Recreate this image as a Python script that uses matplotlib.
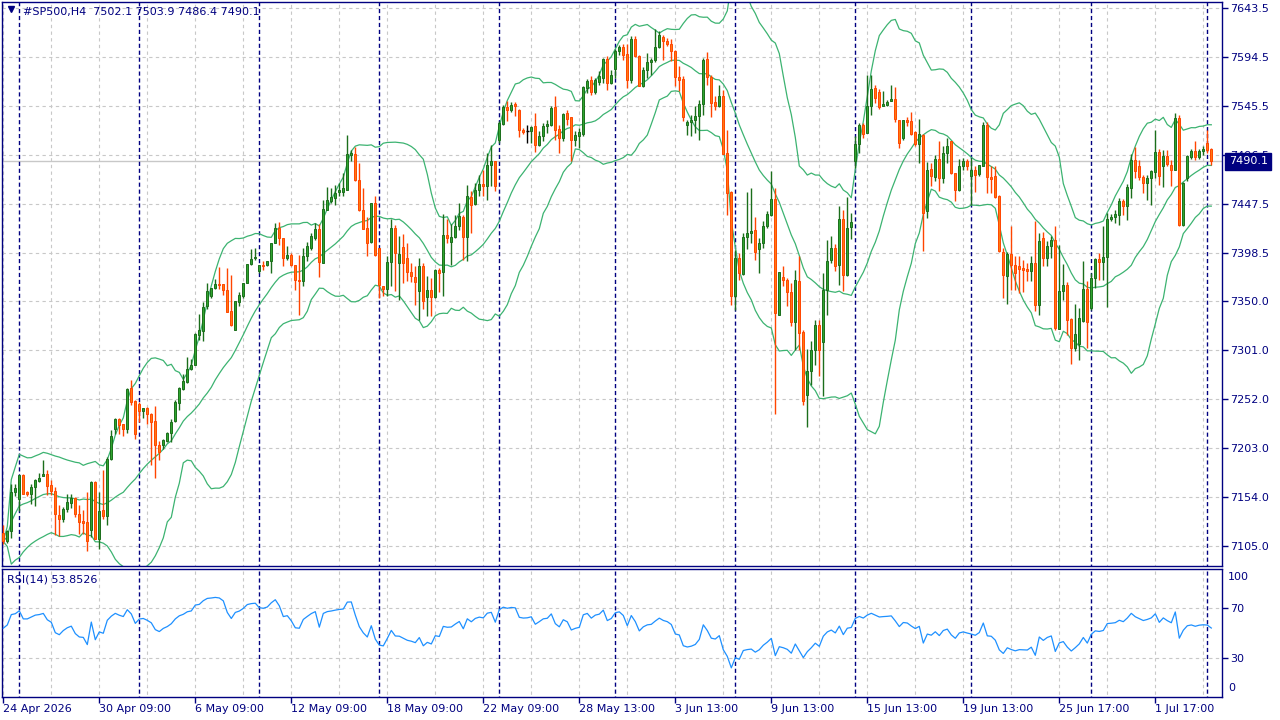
import matplotlib
matplotlib.use("Agg")
import matplotlib.pyplot as plt
import matplotlib.transforms as mtransforms
import numpy as np
import pandas as pd

# H4 candles (oldest first)
opens = [
    7118, 7110, 7120, 7159, 7152, 7176, 7159, 7157, 7164, 7170,
    7175, 7177, 7166, 7160, 7136, 7132, 7142, 7148, 7153, 7137,
    7130, 7129, 7121, 7169, 7112, 7141, 7135, 7192, 7222, 7232,
    7227, 7222, 7263, 7250, 7247, 7240, 7243, 7237, 7230, 7206,
    7206, 7210, 7218, 7230, 7248, 7262, 7269, 7282, 7286, 7316,
    7320, 7345, 7355, 7363, 7367, 7367, 7361, 7340, 7321, 7349,
    7355, 7368, 7387, 7393, 7380, 7386, 7386, 7390, 7408, 7423,
    7413, 7393, 7396, 7386, 7371, 7370, 7395, 7403, 7413, 7422,
    7388, 7441, 7450, 7453, 7459, 7459, 7461, 7496, 7497, 7471,
    7441, 7423, 7409, 7448, 7403, 7365, 7362, 7389, 7423, 7388,
    7404, 7393, 7379, 7374, 7360, 7385, 7354, 7361, 7354, 7381,
    7379, 7416, 7409, 7414, 7425, 7434, 7414, 7454, 7447, 7461,
    7467, 7465, 7486, 7490, 7511, 7527, 7544, 7541, 7547, 7541,
    7521, 7520, 7520, 7525, 7506, 7515, 7525, 7526, 7544, 7522,
    7513, 7538, 7534, 7511, 7515, 7517, 7563, 7571, 7559, 7569,
    7573, 7592, 7568, 7582, 7600, 7604, 7597, 7571, 7612, 7595,
    7565, 7581, 7589, 7591, 7604, 7614, 7610, 7607, 7600, 7574,
    7572, 7526, 7529, 7531, 7535, 7547, 7592, 7574, 7549, 7545,
    7555, 7498, 7459, 7355, 7393, 7377, 7414, 7418, 7421, 7402,
    7408, 7425, 7436, 7452, 7336, 7374, 7371, 7359, 7329, 7370,
    7319, 7256, 7280, 7301, 7326, 7309, 7361, 7391, 7403, 7386,
    7432, 7376, 7424, 7490, 7507, 7526, 7518, 7545, 7563, 7559,
    7545, 7546, 7550, 7552, 7531, 7513, 7531, 7530, 7519, 7507,
    7516, 7440, 7482, 7474, 7492, 7473, 7498, 7510, 7478, 7461,
    7485, 7490, 7475, 7481, 7477, 7485, 7526, 7474, 7475, 7455,
    7399, 7375, 7397, 7386, 7385, 7383, 7382, 7380, 7388, 7346,
    7413, 7393, 7405, 7411, 7322, 7360, 7366, 7332, 7303, 7307,
    7330, 7362, 7343, 7373, 7392, 7389, 7394, 7432, 7434, 7436,
    7450, 7445, 7463, 7491, 7485, 7474, 7468, 7473, 7479, 7499,
    7485, 7495, 7486, 7481, 7533, 7426, 7473, 7494, 7500, 7494,
    7500, 7508, 7502.1,
]
highs = [
    7126, 7121, 7167, 7167, 7176, 7177, 7160, 7167, 7172, 7178,
    7191, 7181, 7171, 7164, 7146, 7144, 7157, 7157, 7154, 7146,
    7141, 7159, 7170, 7170, 7159, 7181, 7194, 7221, 7233, 7233,
    7227, 7263, 7271, 7251, 7249, 7243, 7244, 7238, 7245, 7210,
    7212, 7219, 7232, 7251, 7264, 7277, 7294, 7292, 7318, 7337,
    7349, 7368, 7363, 7372, 7384, 7367, 7383, 7376, 7350, 7359,
    7368, 7387, 7402, 7403, 7386, 7390, 7390, 7408, 7428, 7429,
    7413, 7405, 7398, 7386, 7396, 7403, 7409, 7418, 7428, 7427,
    7451, 7464, 7463, 7466, 7468, 7478, 7516, 7501, 7504, 7488,
    7463, 7434, 7448, 7455, 7403, 7365, 7395, 7432, 7426, 7415,
    7417, 7408, 7388, 7385, 7393, 7388, 7375, 7373, 7382, 7383,
    7437, 7432, 7427, 7436, 7448, 7436, 7466, 7460, 7468, 7476,
    7481, 7498, 7506, 7490, 7530, 7546, 7550, 7549, 7549, 7542,
    7523, 7526, 7525, 7538, 7520, 7528, 7531, 7545, 7555, 7526,
    7538, 7541, 7534, 7520, 7523, 7565, 7572, 7575, 7573, 7580,
    7593, 7595, 7581, 7602, 7606, 7607, 7607, 7615, 7615, 7596,
    7584, 7598, 7593, 7622, 7620, 7616, 7613, 7612, 7601, 7585,
    7575, 7531, 7536, 7545, 7551, 7593, 7599, 7576, 7555, 7566,
    7561, 7521, 7460, 7401, 7398, 7418, 7459, 7463, 7434, 7413,
    7430, 7440, 7480, 7463, 7379, 7385, 7373, 7368, 7381, 7395,
    7321, 7302, 7310, 7331, 7331, 7378, 7411, 7415, 7407, 7445,
    7441, 7454, 7438, 7515, 7528, 7528, 7576, 7576, 7566, 7562,
    7560, 7551, 7566, 7564, 7531, 7531, 7534, 7539, 7520, 7532,
    7517, 7489, 7488, 7496, 7510, 7505, 7513, 7510, 7478, 7492,
    7493, 7492, 7493, 7485, 7486, 7529, 7529, 7485, 7485, 7456,
    7403, 7399, 7425, 7395, 7395, 7391, 7388, 7395, 7430, 7418,
    7419, 7410, 7415, 7425, 7406, 7387, 7369, 7333, 7347, 7343,
    7390, 7370, 7378, 7393, 7398, 7425, 7438, 7437, 7441, 7453,
    7452, 7467, 7497, 7504, 7491, 7476, 7476, 7481, 7521, 7502,
    7501, 7501, 7491, 7538, 7536, 7469, 7496, 7502, 7510, 7502,
    7505, 7521, 7503.9,
]
lows = [
    7107, 7108, 7113, 7155, 7140, 7157, 7155, 7147, 7145, 7169,
    7175, 7156, 7156, 7116, 7115, 7129, 7139, 7143, 7134, 7117,
    7117, 7100, 7114, 7112, 7102, 7132, 7126, 7191, 7217, 7217,
    7215, 7218, 7246, 7212, 7229, 7233, 7227, 7186, 7173, 7191,
    7202, 7209, 7209, 7229, 7241, 7261, 7268, 7281, 7286, 7311,
    7310, 7342, 7353, 7362, 7362, 7356, 7339, 7325, 7321, 7345,
    7353, 7368, 7386, 7391, 7378, 7381, 7385, 7378, 7408, 7406,
    7385, 7391, 7385, 7361, 7336, 7365, 7390, 7401, 7411, 7374,
    7388, 7441, 7448, 7446, 7455, 7455, 7461, 7490, 7470, 7440,
    7422, 7395, 7408, 7395, 7353, 7355, 7355, 7365, 7360, 7351,
    7368, 7370, 7369, 7346, 7331, 7342, 7335, 7335, 7353, 7359,
    7355, 7408, 7386, 7413, 7421, 7391, 7390, 7418, 7446, 7455,
    7455, 7451, 7465, 7460, 7508, 7526, 7530, 7539, 7535, 7514,
    7517, 7508, 7508, 7499, 7505, 7510, 7518, 7525, 7511, 7498,
    7510, 7526, 7490, 7505, 7503, 7515, 7558, 7556, 7557, 7566,
    7568, 7561, 7567, 7573, 7596, 7591, 7563, 7568, 7594, 7565,
    7564, 7573, 7576, 7589, 7603, 7591, 7605, 7590, 7565, 7560,
    7530, 7516, 7515, 7518, 7511, 7536, 7566, 7534, 7541, 7544,
    7497, 7436, 7346, 7341, 7371, 7376, 7402, 7408, 7391, 7378,
    7403, 7423, 7435, 7237, 7336, 7365, 7345, 7325, 7301, 7301,
    7246, 7224, 7266, 7286, 7275, 7255, 7336, 7388, 7380, 7366,
    7360, 7375, 7412, 7483, 7498, 7513, 7518, 7536, 7548, 7542,
    7545, 7545, 7550, 7529, 7503, 7511, 7525, 7516, 7505, 7488,
    7400, 7433, 7465, 7470, 7460, 7468, 7488, 7477, 7450, 7460,
    7481, 7481, 7446, 7459, 7475, 7485, 7458, 7458, 7453, 7399,
    7353, 7347, 7361, 7361, 7358, 7359, 7370, 7370, 7340, 7336,
    7385, 7385, 7393, 7321, 7322, 7351, 7316, 7287, 7300, 7291,
    7329, 7303, 7341, 7363, 7371, 7371, 7344, 7430, 7428, 7426,
    7436, 7431, 7453, 7473, 7471, 7458, 7451, 7446, 7473, 7466,
    7464, 7485, 7465, 7481, 7425, 7425, 7470, 7492, 7491, 7492,
    7496, 7498, 7486.4,
]
closes = [
    7110, 7120, 7159, 7163, 7176, 7157, 7157, 7164, 7171, 7173,
    7177, 7165, 7160, 7137, 7132, 7142, 7149, 7153, 7137, 7129,
    7128, 7110, 7169, 7112, 7140, 7135, 7192, 7215, 7232, 7226,
    7222, 7262, 7249, 7217, 7240, 7243, 7237, 7229, 7206, 7199,
    7211, 7218, 7229, 7249, 7263, 7270, 7282, 7286, 7317, 7321,
    7344, 7360, 7363, 7367, 7366, 7361, 7339, 7326, 7350, 7356,
    7368, 7387, 7392, 7394, 7386, 7385, 7390, 7408, 7423, 7413,
    7393, 7396, 7386, 7371, 7370, 7395, 7405, 7415, 7422, 7389,
    7442, 7451, 7454, 7458, 7461, 7463, 7497, 7498, 7471, 7441,
    7422, 7408, 7448, 7396, 7366, 7362, 7389, 7423, 7398, 7397,
    7388, 7379, 7375, 7369, 7385, 7350, 7361, 7354, 7381, 7378,
    7416, 7413, 7414, 7425, 7435, 7414, 7455, 7446, 7461, 7467,
    7465, 7486, 7490, 7465, 7528, 7544, 7541, 7546, 7545, 7521,
    7519, 7520, 7524, 7506, 7515, 7525, 7527, 7543, 7521, 7513,
    7537, 7532, 7511, 7516, 7519, 7564, 7570, 7559, 7571, 7575,
    7592, 7568, 7576, 7600, 7604, 7596, 7571, 7612, 7595, 7565,
    7581, 7589, 7591, 7604, 7616, 7610, 7607, 7600, 7574, 7571,
    7534, 7529, 7531, 7535, 7547, 7591, 7574, 7548, 7545, 7555,
    7497, 7458, 7355, 7393, 7378, 7414, 7418, 7420, 7399, 7408,
    7425, 7437, 7452, 7338, 7379, 7371, 7359, 7329, 7371, 7318,
    7250, 7280, 7301, 7326, 7301, 7361, 7390, 7403, 7385, 7432,
    7376, 7423, 7429, 7507, 7526, 7517, 7545, 7562, 7553, 7544,
    7547, 7549, 7552, 7532, 7508, 7531, 7529, 7517, 7507, 7517,
    7438, 7481, 7475, 7492, 7473, 7498, 7505, 7478, 7461, 7485,
    7490, 7485, 7481, 7476, 7486, 7526, 7474, 7472, 7454, 7400,
    7376, 7397, 7386, 7378, 7382, 7381, 7380, 7388, 7346, 7410,
    7393, 7405, 7411, 7323, 7360, 7366, 7331, 7303, 7317, 7333,
    7362, 7329, 7373, 7392, 7389, 7394, 7432, 7434, 7437, 7450,
    7445, 7464, 7491, 7480, 7474, 7468, 7473, 7480, 7499, 7475,
    7495, 7487, 7481, 7533, 7426, 7468, 7495, 7500, 7494, 7500,
    7502, 7501, 7490.1,
]

price_ticks = [7105.0, 7154.0, 7203.0, 7252.0, 7301.0, 7350.0,
               7398.5, 7447.5, 7496.5, 7545.5, 7594.5, 7643.5]
week_starts = [4, 34, 64, 94, 124, 153, 183, 213, 242, 272, 301]
time_label_bars = [0, 24, 48, 72, 96, 120, 144, 168, 192, 216, 240, 264, 288]
time_labels = ["24 Apr 2026", "30 Apr 09:00", "6 May 09:00", "12 May 09:00",
               "18 May 09:00", "22 May 09:00", "28 May 13:00", "3 Jun 13:00",
               "9 Jun 13:00", "15 Jun 13:00", "19 Jun 13:00", "25 Jun 17:00",
               "1 Jul 17:00"]
rsi_seed_gain = 7.0
rsi_seed_loss = 6.0

NAVY = "#000080"
GRID = "#c8c8c8"
BULL_FILL = "#2fa52f"
BULL_EDGE = "#1b6e1b"
BEAR_FILL = "#ff7a10"
BEAR_EDGE = "#ff4500"
BANDS = "#3cb371"
RSI_COLOR = "#1e90ff"

plt.rcParams["font.family"] = ["DejaVu Sans"]
W, H = 1280, 720


def px_rect(x0, y0, x1, y1):
    return [x0 / W, 1 - y1 / H, (x1 - x0) / W, (y1 - y0) / H]


def bollinger(values, period=20, mult=2.0):
    s = pd.Series(values)
    mid = s.rolling(period, min_periods=1).mean()
    sd = s.rolling(period, min_periods=1).std(ddof=0)
    return mid, mid + mult * sd, mid - mult * sd


def wilder_rsi(values, period=14):
    delta = np.diff(np.asarray(values, dtype=float), prepend=values[0])
    gains = np.clip(delta, 0, None)
    losses = np.clip(-delta, 0, None)
    ag, al = rsi_seed_gain, rsi_seed_loss
    out = []
    for i in range(len(values)):
        if i > 0:
            ag = (ag * (period - 1) + gains[i]) / period
            al = (al * (period - 1) + losses[i]) / period
        out.append(100 - 100 / (1 + ag / al))
    return np.array(out)


o = np.array(opens, dtype=float)
h = np.array(highs, dtype=float)
l = np.array(lows, dtype=float)
c = np.array(closes, dtype=float)
x = np.arange(len(c))
xlim = ((2 - 3.3) / 4, (1222 - 3.3) / 4)

fig = plt.figure(figsize=(12.8, 7.2), dpi=100)
ax = fig.add_axes(px_rect(2, 2, 1222, 566))
ax_rsi = fig.add_axes(px_rect(2, 569, 1222, 697))

for a in (ax, ax_rsi):
    a.set_xlim(*xlim)
    for sp in a.spines.values():
        sp.set_color(NAVY)
        sp.set_linewidth(1.0)
    a.vlines(np.arange(0, len(c) + 3, 12), -1e5, 1e5, colors=GRID,
             linestyles=(0, (3, 3)), linewidth=0.8, zorder=0)
    a.vlines(week_starts, -1e5, 1e5, colors=NAVY,
             linestyles=(0, (3, 2)), linewidth=1.0, zorder=1)

# main price panel
ax.set_ylim(7085.5, 7649.5)
ax.hlines(price_ticks, *xlim, colors=GRID, linestyles=(0, (3, 3)), linewidth=0.8, zorder=0)
ax.axhline(c[-1], color="#c8c8c8", linewidth=1.0, zorder=0.5)

mid, upper, lower = bollinger(c)
for band in (mid, upper, lower):
    ax.plot(x, band, color=BANDS, linewidth=0.9, zorder=2)

bull = c > o
bear = c < o
doji = c == o
wick_colors = np.where(bull, BULL_EDGE, np.where(bear, BEAR_EDGE, "black"))
ax.vlines(x, l, h, colors=wick_colors, linewidth=1.0, zorder=3)
ax.bar(x[bull], np.maximum(c[bull] - o[bull], 0.8), bottom=o[bull], width=0.55,
       color=BULL_FILL, edgecolor=BULL_EDGE, linewidth=0.7, zorder=4)
ax.bar(x[bear], np.maximum(o[bear] - c[bear], 0.8), bottom=c[bear], width=0.55,
       color=BEAR_FILL, edgecolor=BEAR_EDGE, linewidth=0.7, zorder=4)
ax.hlines(c[doji], x[doji] - 0.4, x[doji] + 0.4, colors="black", linewidth=1.0, zorder=4)

ax.yaxis.tick_right()
ax.set_yticks(price_ticks)
ax.set_yticklabels([f"{v:.1f}" for v in price_ticks])
ax.tick_params(axis="y", colors=NAVY, labelcolor=NAVY, length=4, width=1,
               labelsize=8, pad=2)
ax.tick_params(axis="x", bottom=False, labelbottom=False)

trans = mtransforms.blended_transform_factory(ax.transAxes, ax.transData)
ax.text(1.0055, c[-1], f"{c[-1]:.1f}", transform=trans, ha="left", va="center",
        color="white", fontsize=8, clip_on=False, zorder=10,
        bbox=dict(boxstyle="square,pad=0.3", fc=NAVY, ec=NAVY))

ax.plot([0.0074], [0.9876], marker="v", ms=5, color=NAVY,
        transform=ax.transAxes, clip_on=False)
ax.text(0.0172, 0.982, "#SP500,H4  %.1f %.1f %.1f %.1f" % (o[-1], h[-1], l[-1], c[-1]),
        transform=ax.transAxes, ha="left", va="center", color=NAVY, fontsize=8)

# RSI panel
rsi = wilder_rsi(c)
ax_rsi.set_ylim(-1.2, 101.2)
ax_rsi.hlines([70, 30], *xlim, colors=GRID, linestyles=(0, (3, 3)), linewidth=0.8, zorder=0)
ax_rsi.plot(x, rsi, color=RSI_COLOR, linewidth=0.9, zorder=3)
ax_rsi.text(0.004, 0.92, "RSI(14) 53.8526", transform=ax_rsi.transAxes,
            ha="left", va="center", color=NAVY, fontsize=8)

ax_rsi.yaxis.tick_right()
ax_rsi.set_yticks([70, 30])
ax_rsi.set_yticklabels(["70", "30"])
ax_rsi.tick_params(axis="y", colors=NAVY, labelcolor=NAVY, length=4, width=1,
                   labelsize=8, pad=2)
rtrans = mtransforms.blended_transform_factory(ax_rsi.transAxes, ax_rsi.transData)
ax_rsi.text(1.005, 94.8, "100", transform=rtrans, ha="left", va="center",
            color=NAVY, fontsize=8, clip_on=False)
ax_rsi.text(1.005, 6.0, "0", transform=rtrans, ha="left", va="center",
            color=NAVY, fontsize=8, clip_on=False)

ax_rsi.set_xticks(time_label_bars)
ax_rsi.set_xticklabels(time_labels, ha="left")
ax_rsi.tick_params(axis="x", colors=NAVY, labelcolor=NAVY, length=4, width=1,
                   labelsize=8, pad=1)

fig.savefig("out.png", dpi=100, facecolor="white")
